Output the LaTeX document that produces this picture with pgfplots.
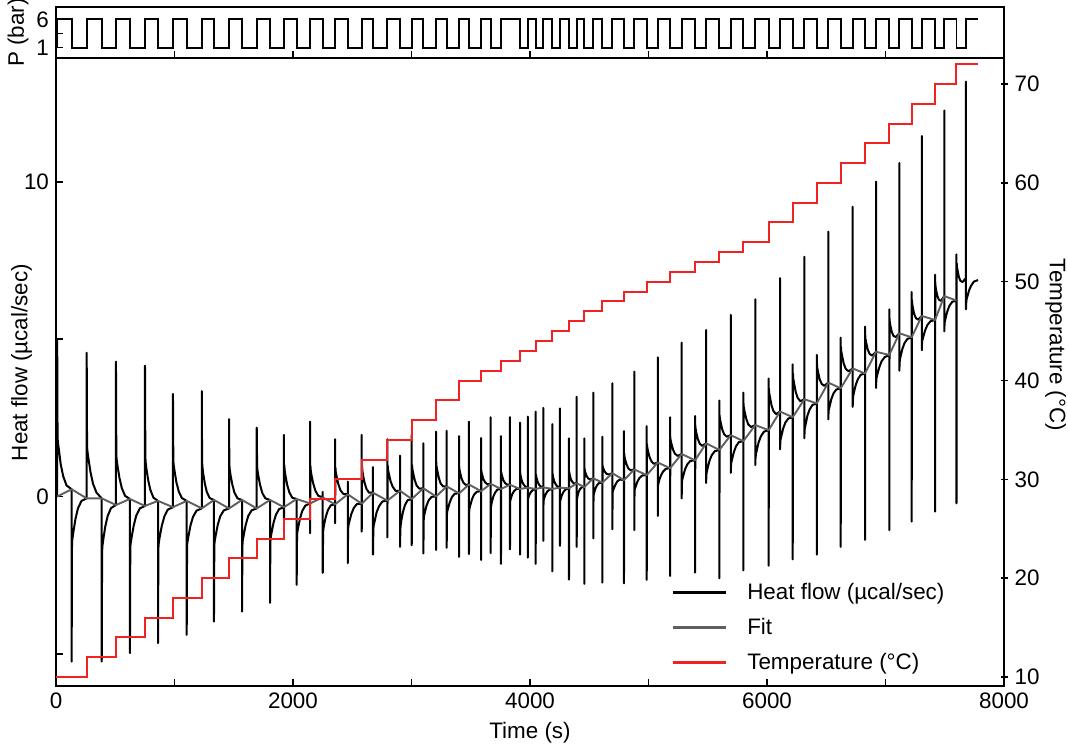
\documentclass[border=0pt]{standalone}
\usepackage{fontspec}
\setmainfont{Liberation Sans}
\usepackage{pgfplots}
\usepackage{pgfplotstable}
\pgfplotsset{compat=1.18}
\definecolor{tred}{RGB}{240,34,34}
\definecolor{fitgray}{RGB}{95,95,95}

\pgfplotstableread{
t hf
5 0.00
10 0.00
10 5.0
13 2.0
15 1.77
25 1.47
40 1.02
61 0.64
89 0.35
132 0.23
132 -5.25
135 -1.6
137 -1.39
147 -1.12
164 -0.72
185 -0.38
215 -0.14
259 -0.06
259 4.57
262 1.69
264 1.48
274 1.20
291 0.78
312 0.41
342 0.12
386 -0.06
386 -5.25
389 -1.8
391 -1.60
400 -1.34
416 -0.95
436 -0.62
464 -0.37
506 -0.27
506 4.29
509 1.39
511 1.20
520 0.95
536 0.58
556 0.26
583 0.02
624 -0.08
624 -4.98
627 -1.7
629 -1.52
639 -1.28
656 -0.92
677 -0.61
707 -0.38
751 -0.30
751 4.16
754 1.29
756 1.11
764 0.86
779 0.50
797 0.20
823 -0.04
861 -0.14
861 -4.66
864 -1.68
866 -1.51
876 -1.27
893 -0.93
914 -0.64
943 -0.42
987 -0.34
987 3.26
990 1.21
992 1.03
1001 0.80
1016 0.45
1036 0.16
1062 -0.05
1103 -0.14
1103 -4.40
1106 -1.65
1108 -1.48
1118 -1.26
1135 -0.92
1156 -0.65
1186 -0.45
1230 -0.38
1230 3.35
1233 1.13
1235 0.96
1242 0.74
1256 0.41
1273 0.14
1297 -0.05
1333 -0.11
1333 -3.98
1336 -1.62
1338 -1.45
1348 -1.23
1365 -0.90
1386 -0.63
1416 -0.44
1460 -0.38
1460 2.46
1463 1.05
1465 0.89
1473 0.68
1488 0.38
1506 0.12
1532 -0.06
1570 -0.11
1570 -3.66
1573 -1.6
1575 -1.43
1585 -1.21
1601 -0.90
1622 -0.62
1651 -0.44
1694 -0.38
1694 2.19
1697 1.03
1699 0.87
1707 0.67
1722 0.37
1741 0.11
1767 -0.06
1806 -0.11
1806 -3.38
1809 -1.49
1811 -1.33
1820 -1.13
1836 -0.83
1856 -0.58
1883 -0.40
1924 -0.34
1924 1.96
1924 -0.7
1927 1.0
1929 0.85
1937 0.65
1951 0.37
1969 0.13
1994 -0.04
2031 -0.08
2031 -2.81
2034 -1.28
2036 -1.15
2045 -0.96
2059 -0.70
2078 -0.46
2104 -0.29
2144 -0.22
2144 2.38
2144 -1.17
2147 0.98
2149 0.85
2157 0.66
2171 0.41
2189 0.18
2214 0.02
2251 -0.03
2251 0.15
2251 -2.43
2254 -1.17
2256 -1.04
2263 -0.88
2277 -0.64
2295 -0.43
2319 -0.28
2355 -0.25
2355 1.82
2355 -0.85
2358 0.93
2360 0.80
2368 0.64
2382 0.40
2400 0.20
2425 0.08
2462 0.07
2462 0.47
2462 -2.12
2465 -1.07
2467 -0.94
2476 -0.79
2492 -0.56
2512 -0.37
2539 -0.24
2580 -0.23
2580 1.96
2580 -1.12
2583 0.97
2585 0.84
2591 0.67
2604 0.44
2620 0.24
2642 0.12
2675 0.12
2675 0.93
2675 -1.85
2678 -1.07
2680 -0.94
2690 -0.77
2705 -0.51
2726 -0.31
2754 -0.16
2796 -0.13
2796 1.82
2796 -1.30
2799 1.0
2801 0.87
2809 0.72
2823 0.49
2841 0.31
2866 0.18
2903 0.18
2903 1.30
2903 -1.60
2906 -1.07
2908 -0.93
2915 -0.75
2928 -0.49
2945 -0.27
2967 -0.12
3002 -0.08
3002 1.96
3002 -1.55
3005 1.0
3007 0.88
3014 0.74
3027 0.53
3043 0.35
3066 0.25
3100 0.26
3100 1.69
3100 -1.81
3103 -0.75
3105 -0.64
3113 -0.50
3127 -0.29
3145 -0.12
3170 -0.01
3207 0.00
3207 2.06
3207 -1.70
3209 1.08
3211 0.96
3218 0.82
3230 0.60
3245 0.42
3266 0.32
3297 0.32
3297 2.09
3297 -1.63
3299 -0.59
3301 -0.49
3309 -0.37
3323 -0.18
3341 -0.02
3365 0.09
3401 0.10
3401 1.92
3401 -1.92
3403 0.95
3405 0.86
3411 0.74
3422 0.58
3436 0.45
3456 0.37
3485 0.38
3485 2.38
3485 -1.83
3487 -0.48
3489 -0.39
3497 -0.27
3511 -0.08
3528 0.06
3551 0.15
3587 0.17
3587 1.86
3587 -2.02
3589 0.84
3591 0.77
3597 0.68
3607 0.55
3621 0.45
3640 0.39
3668 0.40
3668 2.52
3668 -1.80
3670 -0.38
3672 -0.30
3678 -0.18
3690 -0.01
3705 0.12
3725 0.22
3755 0.24
3755 1.92
3755 -2.14
3757 0.79
3759 0.73
3764 0.66
3774 0.53
3787 0.44
3804 0.38
3831 0.37
3831 2.52
3831 -1.68
3833 -0.16
3835 -0.11
3841 -0.03
3852 0.09
3867 0.18
3886 0.24
3916 0.24
3916 2.35
3916 -1.85
3918 0.74
3920 0.68
3924 0.60
3932 0.49
3943 0.40
3958 0.32
3981 0.28
3981 2.54
3981 -1.94
3983 -0.11
3985 -0.06
3989 0.00
3998 0.08
4009 0.15
4025 0.21
4048 0.24
4048 2.70
4048 -2.14
4050 0.70
4052 0.64
4056 0.58
4064 0.47
4075 0.38
4090 0.32
4112 0.29
4112 2.82
4112 -1.41
4114 -0.16
4116 -0.11
4121 -0.04
4131 0.06
4144 0.15
4161 0.21
4188 0.24
4188 2.30
4188 -2.38
4190 0.74
4192 0.68
4196 0.60
4204 0.49
4215 0.40
4230 0.32
4253 0.28
4253 2.80
4253 -1.57
4255 -0.16
4257 -0.11
4262 -0.04
4272 0.07
4285 0.16
4302 0.23
4329 0.26
4329 1.85
4329 -2.64
4331 0.79
4333 0.74
4337 0.66
4345 0.55
4356 0.47
4371 0.41
4394 0.42
4394 3.17
4394 -1.60
4396 -0.11
4398 -0.05
4402 0.03
4410 0.14
4421 0.23
4436 0.29
4458 0.30
4458 1.85
4458 -2.78
4460 0.90
4462 0.84
4467 0.76
4477 0.66
4490 0.58
4507 0.54
4534 0.58
4534 3.30
4534 -1.33
4536 0.00
4538 0.06
4543 0.14
4553 0.26
4566 0.36
4583 0.43
4610 0.44
4610 1.90
4610 -2.74
4612 1.00
4614 0.94
4620 0.88
4631 0.79
4646 0.72
4665 0.70
4695 0.74
4695 3.60
4695 -1.04
4697 0.10
4699 0.17
4707 0.25
4720 0.37
4736 0.48
4759 0.54
4793 0.52
4793 2.08
4793 -2.76
4795 1.37
4797 1.28
4803 1.17
4815 1.02
4830 0.89
4850 0.83
4880 0.86
4880 3.97
4880 -1.07
4882 0.15
4884 0.23
4893 0.33
4906 0.47
4924 0.59
4948 0.67
4985 0.68
4985 2.24
4985 -2.65
4987 1.67
4989 1.57
4996 1.44
5008 1.26
5024 1.12
5045 1.04
5078 1.08
5078 4.42
5078 -0.62
5080 0.31
5082 0.39
5090 0.51
5104 0.66
5122 0.79
5146 0.88
5182 0.90
5182 2.52
5182 -2.53
5184 1.90
5186 1.80
5194 1.67
5207 1.49
5223 1.36
5246 1.29
5280 1.35
5280 4.89
5280 -0.06
5282 0.44
5285 0.54
5294 0.67
5308 0.86
5327 1.02
5353 1.13
5393 1.15
5393 2.56
5393 -2.42
5395 2.27
5397 2.16
5404 2.02
5416 1.83
5432 1.68
5453 1.61
5486 1.69
5486 5.29
5486 0.43
5488 0.63
5490 0.75
5499 0.90
5514 1.13
5533 1.31
5559 1.44
5598 1.48
5598 3.05
5598 -2.60
5600 2.59
5602 2.48
5610 2.34
5622 2.13
5638 1.98
5660 1.90
5694 1.95
5694 5.77
5694 0.75
5696 0.95
5698 1.06
5707 1.21
5721 1.42
5739 1.60
5763 1.73
5800 1.76
5800 3.30
5800 -2.35
5802 2.96
5804 2.84
5812 2.68
5825 2.47
5842 2.29
5866 2.21
5901 2.27
5901 6.27
5901 1.00
5903 1.21
5906 1.33
5915 1.49
5929 1.72
5948 1.91
5974 2.06
6014 2.11
6014 3.75
6014 -2.20
6016 3.44
6018 3.30
6026 3.14
6038 2.90
6054 2.72
6076 2.62
6110 2.70
6110 6.94
6110 1.50
6112 1.69
6114 1.80
6123 1.95
6137 2.17
6155 2.35
6180 2.48
6217 2.52
6217 4.20
6217 -2.00
6219 3.91
6221 3.76
6229 3.59
6242 3.33
6258 3.14
6281 3.03
6315 3.09
6315 7.62
6315 1.85
6317 2.06
6319 2.17
6328 2.33
6341 2.57
6359 2.76
6383 2.91
6420 2.96
6420 4.50
6420 -1.85
6422 4.21
6424 4.09
6432 3.94
6444 3.73
6461 3.58
6483 3.52
6517 3.62
6517 8.42
6517 2.45
6519 2.64
6521 2.75
6530 2.89
6543 3.10
6561 3.28
6585 3.40
6622 3.44
6622 5.05
6622 -1.60
6624 4.76
6626 4.63
6634 4.47
6647 4.23
6664 4.06
6688 3.98
6723 4.07
6723 9.21
6723 2.85
6725 3.07
6727 3.18
6735 3.33
6749 3.55
6767 3.73
6791 3.87
6827 3.91
6827 5.40
6827 -1.38
6829 5.13
6831 5.01
6838 4.87
6850 4.67
6866 4.53
6887 4.48
6920 4.60
6920 10.01
6920 3.45
6922 3.65
6924 3.76
6933 3.91
6948 4.11
6967 4.30
6993 4.43
7032 4.50
7032 5.95
7032 -1.07
7034 5.66
7036 5.55
7042 5.42
7053 5.23
7068 5.10
7087 5.07
7117 5.19
7117 10.60
7117 4.00
7119 4.23
7121 4.34
7129 4.48
7143 4.70
7161 4.88
7185 5.01
7221 5.06
7221 6.50
7221 -0.80
7223 6.25
7225 6.14
7231 6.00
7242 5.80
7257 5.67
7276 5.62
7306 5.74
7306 11.46
7306 4.65
7308 4.85
7310 4.95
7319 5.08
7334 5.28
7353 5.45
7379 5.57
7418 5.61
7418 7.05
7418 -0.48
7420 6.80
7422 6.69
7427 6.56
7438 6.37
7451 6.25
7469 6.22
7496 6.37
7496 12.27
7496 5.25
7498 5.45
7500 5.55
7508 5.69
7522 5.89
7539 6.06
7563 6.19
7599 6.23
7599 7.70
7599 -0.22
7601 7.41
7603 7.30
7609 7.17
7619 6.98
7633 6.85
7651 6.82
7679 6.95
7679 13.19
7679 5.95
7681 6.14
7683 6.24
7691 6.36
7705 6.55
7722 6.70
7745 6.83
7781 6.88
}\hfdata

\pgfplotstableread{
t fit
10 0.00
132 0.23
259 -0.06
386 -0.06
506 -0.27
624 -0.08
751 -0.30
861 -0.14
987 -0.34
1103 -0.14
1230 -0.38
1333 -0.11
1460 -0.38
1570 -0.11
1694 -0.38
1806 -0.11
1924 -0.34
2031 -0.08
2144 -0.22
2251 -0.03
2355 -0.25
2462 0.07
2580 -0.23
2675 0.12
2796 -0.13
2903 0.18
3002 -0.08
3100 0.26
3207 0.00
3297 0.32
3401 0.10
3485 0.38
3587 0.17
3668 0.40
3755 0.24
3831 0.37
3916 0.24
3981 0.28
4048 0.24
4112 0.29
4188 0.24
4253 0.28
4329 0.26
4394 0.42
4458 0.30
4534 0.58
4610 0.44
4695 0.74
4793 0.52
4880 0.86
4985 0.68
5078 1.08
5182 0.90
5280 1.35
5393 1.15
5486 1.69
5598 1.48
5694 1.95
5800 1.76
5901 2.27
6014 2.11
6110 2.70
6217 2.52
6315 3.09
6420 2.96
6517 3.62
6622 3.44
6723 4.07
6827 3.91
6920 4.60
7032 4.50
7117 5.19
7221 5.06
7306 5.74
7418 5.61
7496 6.37
7599 6.23
}\fitdata

\pgfplotstableread{
t p
10 1
10 6
132 1
259 6
386 1
506 6
624 1
751 6
861 1
987 6
1103 1
1230 6
1333 1
1460 6
1570 1
1694 6
1806 1
1924 6
2031 1
2144 6
2251 1
2355 6
2462 1
2580 6
2675 1
2796 6
2903 1
3002 6
3100 1
3207 6
3297 1
3401 6
3485 1
3587 6
3668 1
3755 6
3916 1
3981 6
4048 1
4112 6
4188 1
4253 6
4329 1
4394 6
4458 1
4534 6
4610 1
4695 6
4793 1
4880 6
4985 1
5078 6
5182 1
5280 6
5393 1
5486 6
5598 1
5694 6
5800 1
5901 6
6014 1
6110 6
6217 1
6315 6
6420 1
6517 6
6622 1
6723 6
6827 1
6920 6
7032 1
7117 6
7221 1
7306 6
7418 1
7496 6
7599 1
7679 6
7781 6
}\pdata

\pgfplotstableread{
t temp
0 10
259 12
506 14
751 16
987 18
1230 20
1460 22
1694 24
1924 26
2144 28
2355 30
2580 32
2796 34
3002 36
3207 38
3401 40
3587 41
3755 42
3916 43
4048 44
4188 45
4329 46
4458 47
4610 48
4793 49
4985 50
5182 51
5393 52
5598 53
5800 54
6014 56
6217 58
6420 60
6622 62
6827 64
7032 66
7221 68
7418 70
7599 72
7781 72
}\tdata

\begin{document}
\begin{tikzpicture}[font=\fontsize{11.2}{13.4}\selectfont]
\path[use as bounding box] (-28pt,-29.5pt) rectangle (506pt,343pt);
\pgfplotsset{
  every axis/.append style={
    scale only axis, width=474pt,
    axis line style={line width=0.75pt, black},
    tick style={line width=0.75pt, black},
    major tick length=3.5pt,
    tick align=inside,
    /pgf/number format/assume math mode=true,
    /pgf/number format/1000 sep={},
    label style={font=\fontsize{11.2}{13.4}\selectfont},
    ticklabel style={font=\fontsize{11.2}{13.4}\selectfont},
  },
}
\begin{axis}[name=main, at={(0,0)}, anchor=south west, height=314pt,
  xmin=0, xmax=8000, ymin=-6.025, ymax=13.94,
  xtick={0,1000,...,8000}, xticklabels={0,,2000,,4000,,6000,,8000},
  ytick={-5,0,5,10}, yticklabels={,0,,10},
  xtick pos=left, ytick pos=left,
  xlabel={Time (s)}, ylabel={Heat flow (µcal/sec)},
  xlabel style={at={(axis description cs:0.5,-0.057)}, anchor=north, inner sep=0pt},
  ylabel style={at={(axis description cs:-0.025,0.515)}, anchor=south, inner sep=0pt}]
\addplot[black, line width=1pt, line join=round] table[x=t,y=hf] {\hfdata};
\addplot[fitgray, line width=0.95pt, line join=round] table[x=t,y=fit] {\fitdata};
\end{axis}

\begin{axis}[name=ptop, at={(main.north west)}, anchor=south west, height=25.5pt,
  xmin=0, xmax=8000, ymin=-0.81, ymax=8.17,
  xtick={1000,2000,...,7000}, xticklabels={}, xtick pos=left,
  ytick={1,6}, ytick pos=left, extra y ticks={3.5}, extra y tick labels={},
  ylabel={P (bar)},
  ylabel style={at={(axis description cs:-0.0285,0.5)}, anchor=south, inner sep=0pt}]
\addplot[black, line width=0.9pt, const plot mark left] table[x=t,y=p] {\pdata};
\end{axis}

\begin{axis}[name=temp, at={(0,0)}, anchor=south west, height=314pt,
  xmin=0, xmax=8000, ymin=9.09, ymax=72.63,
  axis x line=none, axis y line=right, y axis line style={-},
  ytick={10,20,...,70},
  ylabel={Temperature (°C)},
  ylabel style={rotate=180, at={(axis description cs:1.043,0.543)}, anchor=south, inner sep=0pt},
  legend style={at={(0.65,0.164)}, anchor=north west, draw=none, fill=none,
    inner sep=0pt, outer sep=0pt, row sep=7pt,
    nodes={inner sep=0pt, anchor=base west, text height=8pt, text depth=2.5pt},
    font=\fontsize{11.2}{13.4}\selectfont},
  legend cell align=left,
  legend image code/.code={\draw[#1, line width=1.1pt] (0pt,3.3pt) -- (26.5pt,3.3pt); \path (0pt,0pt) (36.5pt,0pt);}]
\addlegendimage{black}
\addlegendentry{Heat flow (µcal/sec)}
\addlegendimage{fitgray}
\addlegendentry{Fit}
\addplot[tred, line width=1pt, const plot mark left] table[x=t,y=temp] {\tdata};
\addlegendentry{Temperature (°C)}
\end{axis}
\end{tikzpicture}
\end{document}
